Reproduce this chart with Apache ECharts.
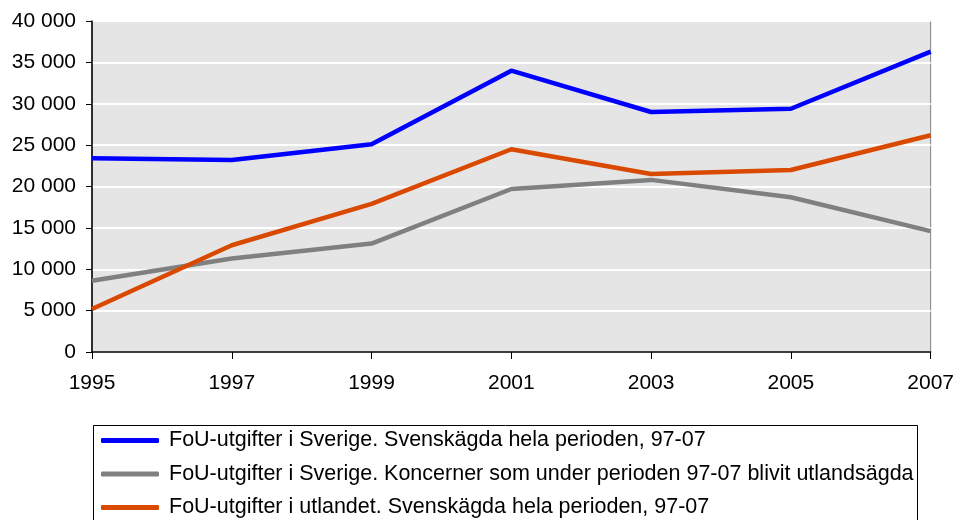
<!DOCTYPE html>
<html>
<head>
<meta charset="utf-8">
<script src="https://cdn.jsdelivr.net/npm/echarts@6/dist/echarts.min.js"></script>
<style>
html,body{margin:0;padding:0;background:#fff;}
#chart{width:957px;height:520px;}
</style>
</head>
<body>
<div id="chart"></div>
<script>
var years = ['1995','1997','1999','2001','2003','2005','2007'];
var seriesNames = [
  'FoU-utgifter i Sverige. Svenskägda hela perioden, 97-07',
  'FoU-utgifter i Sverige. Koncerner som under perioden 97-07 blivit utlandsägda',
  'FoU-utgifter i utlandet. Svenskägda hela perioden, 97-07'
];
var sverigeSvenskagda = [23400, 23200, 25100, 34000, 29000, 29400, 36300];
var sverigeUtlandsagda = [8600, 11300, 13100, 19700, 20800, 18700, 14600];
var utlandetSvenskagda = [5200, 12900, 17900, 24500, 21500, 22000, 26200];
var colors = ['#0000ff', '#808080', '#d94a00'];

var chart = echarts.init(document.getElementById('chart'));
var font = 'Liberation Sans, Arial, sans-serif';
function mk(name, data, color) {
  return {
    name: name, type: 'line', data: data, symbol: 'none',
    lineStyle: {color: color, width: 4.5}, itemStyle: {color: color},
    emphasis: {disabled: true}
  };
}
chart.setOption({
  animation: false,
  backgroundColor: '#ffffff',
  textStyle: {fontFamily: font},
  grid: {left: 92, right: 25, top: 21, height: 331, show: true,
    backgroundColor: '#e5e5e5', borderColor: '#808080', borderWidth: 1},
  xAxis: {
    type: 'category', data: years, boundaryGap: false,
    axisLine: {lineStyle: {color: '#000', width: 1.5}},
    axisTick: {show: true, length: 7, lineStyle: {color: '#000'}},
    axisLabel: {color: '#000', fontSize: 21, fontFamily: font, margin: 21},
    splitLine: {show: false}
  },
  yAxis: {
    type: 'value', min: 0, max: 40000, interval: 5000,
    axisLine: {show: true, lineStyle: {color: '#000', width: 1.5}},
    axisTick: {show: true, length: 6, lineStyle: {color: '#000'}},
    axisLabel: {color: '#000', fontSize: 21, fontFamily: font, margin: 16,
      formatter: function (v) { return String(v).replace(/\B(?=(\d{3})+(?!\d))/g, ' '); }},
    splitLine: {show: true, lineStyle: {color: '#ffffff', width: 2}}
  },
  graphic: [{
    type: 'rect', left: 93, top: 425, z: -1,
    shape: {width: 824, height: 120},
    style: {fill: '#fff', stroke: '#000', lineWidth: 1}
  }],
  legend: {
    orient: 'vertical', left: 101, top: 429.5,
    data: seriesNames,
    icon: 'roundRect', itemWidth: 58, itemHeight: 5, itemGap: 11.5,
    padding: 0,
    textStyle: {color: '#000', fontSize: 21.5, fontFamily: font, lineHeight: 21,
      padding: [0, 0, 0, 5]}
  },
  series: [
    mk(seriesNames[0], sverigeSvenskagda, colors[0]),
    mk(seriesNames[1], sverigeUtlandsagda, colors[1]),
    mk(seriesNames[2], utlandetSvenskagda, colors[2])
  ]
});
</script>
</body>
</html>
